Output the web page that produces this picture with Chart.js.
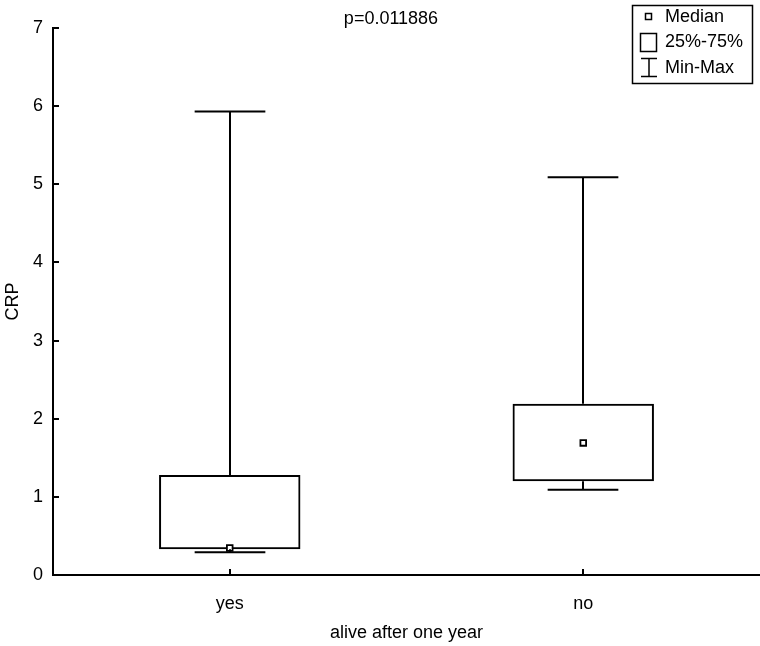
<!DOCTYPE html>
<html>
<head>
<meta charset="utf-8">
<script src="https://cdn.jsdelivr.net/npm/chart.js@4.4.1/dist/chart.umd.min.js"></script>
<style>
  html, body { margin: 0; padding: 0; background: #fff; }
  #wrap { width: 760px; height: 646px; position: relative; }
</style>
</head>
<body>
<div id="wrap"><canvas id="boxChart"></canvas></div>
<script>
const categories = ["yes", "no"];
const minValues = [0.29, 1.09];
const q1Values = [0.33, 1.20];
const medianValues = [0.345, 1.69];
const q3Values = [1.28, 2.19];
const maxValues = [5.93, 5.09];
const yTicks = [0, 1, 2, 3, 4, 5, 6, 7];
const pValueText = "p=0.011886";
const legendItems = ["Median", "25%-75%", "Min-Max"];

const FONT = "Liberation Sans, Arial, sans-serif";

// whiskers, caps, inward axis ticks, p-value and the legend box
const extrasPlugin = {
  id: "extras",
  afterDatasetsDraw(chart) {
    const ctx = chart.ctx;
    const x = chart.scales.x;
    const y = chart.scales.y;
    const band = x.getPixelForValue(1) - x.getPixelForValue(0);
    const capHalf = band * 0.1;
    ctx.save();
    ctx.strokeStyle = "#000";
    ctx.lineWidth = 2;
    categories.forEach(function (c, i) {
      const cx = Math.round(x.getPixelForValue(i));
      const pMax = y.getPixelForValue(maxValues[i]);
      const pMin = y.getPixelForValue(minValues[i]);
      const pQ1 = y.getPixelForValue(q1Values[i]);
      const pQ3 = y.getPixelForValue(q3Values[i]);
      ctx.beginPath();
      ctx.moveTo(cx, pQ3);
      ctx.lineTo(cx, pMax);
      ctx.moveTo(cx, pQ1);
      ctx.lineTo(cx, pMin);
      ctx.moveTo(cx - capHalf, pMax);
      ctx.lineTo(cx + capHalf, pMax);
      ctx.moveTo(cx - capHalf, pMin);
      ctx.lineTo(cx + capHalf, pMin);
      ctx.stroke();
    });
    ctx.restore();
  },
  afterDraw(chart) {
    const ctx = chart.ctx;
    const x = chart.scales.x;
    const y = chart.scales.y;
    const area = chart.chartArea;
    ctx.save();
    ctx.strokeStyle = "#000";
    ctx.lineWidth = 2;
    ctx.beginPath();
    yTicks.forEach(function (v) {
      const py = Math.round(y.getPixelForValue(v));
      ctx.moveTo(area.left, py);
      ctx.lineTo(area.left + 6, py);
    });
    categories.forEach(function (c, i) {
      const px = Math.round(x.getPixelForValue(i));
      ctx.moveTo(px, area.bottom);
      ctx.lineTo(px, area.bottom - 6);
    });
    ctx.stroke();

    ctx.fillStyle = "#000";
    ctx.font = "18px " + FONT;
    ctx.textAlign = "center";
    ctx.textBaseline = "middle";
    ctx.fillText(pValueText, 391, 19);

    // legend
    ctx.lineWidth = 1.5;
    ctx.strokeRect(632.5, 5.5, 120, 78);
    ctx.strokeRect(645.5, 13.5, 6, 6);
    ctx.strokeRect(640.5, 33.5, 16, 18);
    ctx.beginPath();
    ctx.moveTo(649, 58.5);
    ctx.lineTo(649, 76.5);
    ctx.moveTo(641, 58.5);
    ctx.lineTo(657, 58.5);
    ctx.moveTo(641, 76.5);
    ctx.lineTo(657, 76.5);
    ctx.stroke();
    ctx.textAlign = "left";
    legendItems.forEach(function (t, i) {
      ctx.fillText(t, 665, 17 + i * 25.5);
    });
    ctx.restore();
  }
};

new Chart(document.getElementById("boxChart"), {
  type: "bar",
  data: {
    labels: categories,
    datasets: [
      {
        label: "25%-75%",
        data: q1Values.map(function (q, i) { return [q, q3Values[i]]; }),
        backgroundColor: "rgba(255,255,255,0)",
        borderColor: "#000",
        borderWidth: 2,
        borderSkipped: false,
        categoryPercentage: 0.4,
        barPercentage: 1.0,
        order: 2,
      },
      {
        type: "line",
        label: "Median",
        data: medianValues,
        showLine: false,
        pointStyle: "rect",
        pointRadius: 4,
        pointBorderWidth: 1.8,
        pointBackgroundColor: "#fff",
        pointBorderColor: "#000",
        order: 1,
      },
    ],
  },
  options: {
    responsive: true,
    maintainAspectRatio: false,
    animation: false,
    layout: { autoPadding: false, padding: { top: 28, right: 0, left: 0, bottom: 0 } },
    plugins: {
      legend: { display: false },
      tooltip: { enabled: false },
    },
    scales: {
      x: {
        offset: true,
        grid: { display: false, drawTicks: false, offset: false },
        border: { display: true, color: "#000", width: 2 },
        ticks: { color: "#000", padding: 18, font: { family: FONT, size: 18 } },
        title: {
          display: true,
          text: "alive after one year",
          color: "#000",
          padding: { top: 0, bottom: 2 },
          font: { family: FONT, size: 18 },
        },
        afterFit: function (scale) {
          scale.height = 71;
        },
      },
      y: {
        min: 0,
        max: 7,
        grid: { display: false, drawTicks: false },
        border: { display: true, color: "#000", width: 2 },
        ticks: { stepSize: 1, color: "#000", padding: 10, font: { family: FONT, size: 18 } },
        title: {
          display: true,
          text: "CRP",
          color: "#000",
          padding: { top: 2, bottom: 0 },
          font: { family: FONT, size: 18 },
        },
        afterFit: function (scale) { scale.width = 53; },
      },
    },
  },
  plugins: [extrasPlugin],
});
</script>
</body>
</html>
